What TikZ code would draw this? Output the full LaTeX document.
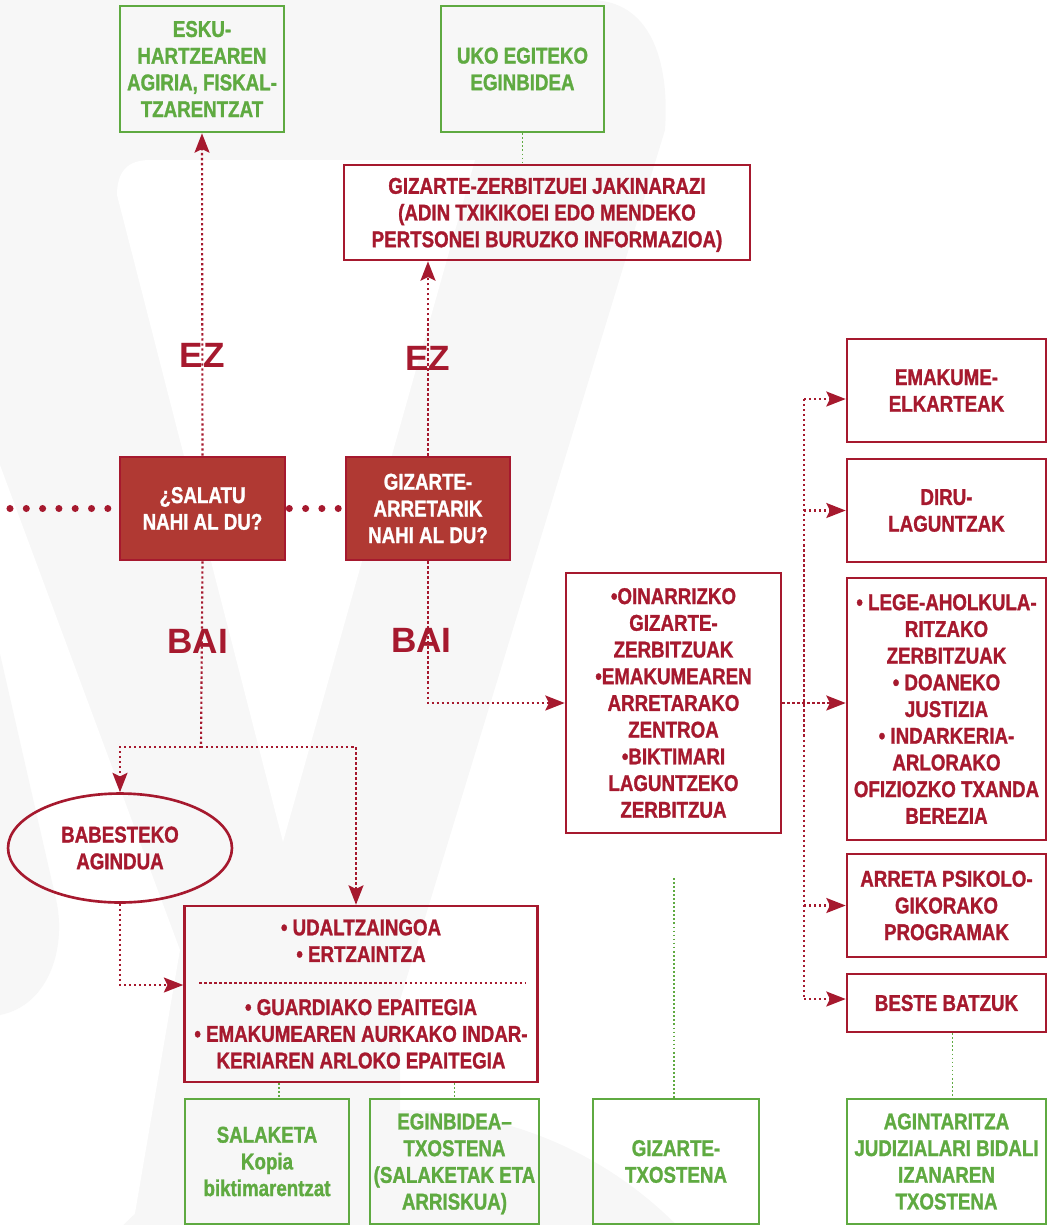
\documentclass[tikz,border=0pt]{standalone}
\usepackage{fontspec}
\setmainfont{Liberation Sans}
\newfontfamily\narrowfont[FakeStretch=0.82, BoldFeatures={FakeBold=1.2}]{Liberation Sans}
\usetikzlibrary{shapes.geometric, arrows.meta}

\definecolor{wine}{RGB}{166,25,46}
\definecolor{brick}{RGB}{176,57,51}
\definecolor{leaf}{RGB}{95,170,65}
\definecolor{logogray}{RGB}{247,247,247}

\tikzstyle{redbox} = [rectangle, draw=wine, line width=1.5pt, text=wine, inner sep=0pt, align=center, font=\narrowfont\bfseries\fontsize{13}{15.2}\selectfont]
\tikzstyle{greenbox} = [rectangle, draw=leaf, line width=1.5pt, text=leaf, inner sep=0pt, align=center, font=\narrowfont\bfseries\fontsize{13}{15.2}\selectfont]
\tikzstyle{question} = [rectangle, draw=wine, fill=brick, line width=1.5pt, text=white, inner sep=0pt, align=center, font=\narrowfont\bfseries\fontsize{13}{15.2}\selectfont]
\tikzstyle{answer} = [text=wine, font=\bfseries\fontsize{20}{20}\selectfont]
\tikzstyle{link} = [wine, line width=1.2pt, dash pattern=on 1.3pt off 1.55pt]
\tikzstyle{arrow} = [link, -{Stealth[length=11pt, width=8.5pt, inset=2pt]}]
\tikzstyle{greenlink} = [leaf, line width=1.1pt, dash pattern=on 1pt off 1.3pt]
\tikzstyle{bigdots} = [wine, line width=4pt, line cap=round, dash pattern=on 0pt off 9.28pt]

\begin{document}
\begin{tikzpicture}[x=0.02cm, y=-0.02cm]
\useasboundingbox (0,0) rectangle (1047,1225);

%background logo
\begin{scope}
\clip (0,0) rectangle (1047,1225);
\fill [logogray] (0,0) -- (590,0) .. controls (650,0) and (670,60) .. (665,130) -- (400,1000) -- (400,1225) -- (0,1225) -- cycle;
\fill [white] (117,195) .. controls (117,172) and (127,160) .. (150,160) -- (475,160) -- (283,842) -- cycle;
\fill [white] (0,465) -- (180,950) -- (133,1225) -- (0,1225) -- cycle;
\fill [logogray] (0,654) -- (55,895) .. controls (68,945) and (50,1005) .. (0,1015) -- cycle;
\fill [logogray] (400,1500) circle (390);
\end{scope}

%top row
\node (esku) [greenbox, minimum width=3.28cm, minimum height=2.52cm] at (202,69) {ESKU-\\HARTZEAREN\\AGIRIA, FISKAL-\\TZARENTZAT};
\node (uko) [greenbox, minimum width=3.26cm, minimum height=2.52cm] at (522.5,69) {UKO EGITEKO\\EGINBIDEA};
\node (gz) [redbox, minimum width=8.12cm, minimum height=1.9cm, text depth=0pt] at (547,212.5) {GIZARTE-ZERBITZUEI JAKINARAZI\\(ADIN TXIKIKOEI EDO MENDEKO\\PERTSONEI BURUZKO INFORMAZIOA)};

%questions
\node (salatu) [question, minimum width=3.3cm, minimum height=2.06cm] at (202.5,508.5) {¿SALATU\\NAHI AL DU?};
\node (arret) [question, minimum width=3.28cm, minimum height=2.06cm] at (428,508.5) {GIZARTE-\\ARRETARIK\\NAHI AL DU?};
\coordinate (leftend) at (10,508.5);

%left branch
\node (babes) [redbox, ellipse, minimum width=4.48cm, minimum height=2.18cm] at (120,848) {BABESTEKO\\AGINDUA};
\node (udal) [redbox, minimum width=7.06cm, minimum height=3.52cm] at (361,994) {• UDALTZAINGOA\\• ERTZAINTZA\\[15pt]• GUARDIAKO EPAITEGIA\\• EMAKUMEAREN AURKAKO INDAR-\\KERIAREN ARLOKO EPAITEGIA};
\coordinate (split) at (201,747);

%middle
\node (oin) [redbox, minimum width=4.3cm, minimum height=5.2cm] at (673.5,703) {•OINARRIZKO\\GIZARTE-\\ZERBITZUAK\\•EMAKUMEAREN\\ARRETARAKO\\ZENTROA\\•BIKTIMARI\\LAGUNTZEKO\\ZERBITZUA};

%right column
\node (emak) [redbox, minimum width=3.98cm, minimum height=2.06cm] at (946.5,390.5) {EMAKUME-\\ELKARTEAK};
\node (diru) [redbox, minimum width=3.98cm, minimum height=2.06cm] at (946.5,510.5) {DIRU-\\LAGUNTZAK};
\node (lege) [redbox, minimum width=3.98cm, minimum height=5.24cm] at (946.5,709) {• LEGE-AHOLKULA-\\RITZAKO\\ZERBITZUAK\\• DOANEKO\\JUSTIZIA\\• INDARKERIA-\\ARLORAKO\\OFIZIOZKO TXANDA\\BEREZIA};
\node (arreta) [redbox, minimum width=3.98cm, minimum height=2.06cm] at (946.5,905.5) {ARRETA PSIKOLO-\\GIKORAKO\\PROGRAMAK};
\node (beste) [redbox, minimum width=3.98cm, minimum height=1.16cm] at (946.5,1003) {BESTE BATZUK};
\coordinate (t1) at (804,399);
\coordinate (t5) at (804,999);

%bottom row
\node (salak) [greenbox, minimum width=3.28cm, minimum height=2.5cm] at (267,1161.5) {SALAKETA\\Kopia\\biktimarentzat};
\node (egin) [greenbox, minimum width=3.38cm, minimum height=2.5cm, text depth=0pt] at (454.5,1161.5) {EGINBIDEA–\\TXOSTENA\\(SALAKETAK ETA\\ARRISKUA)};
\node (gtx) [greenbox, minimum width=3.32cm, minimum height=2.5cm] at (676,1161.5) {GIZARTE-\\TXOSTENA};
\node (agin) [greenbox, minimum width=3.98cm, minimum height=2.5cm] at (946.5,1161.5) {AGINTARITZA\\JUDIZIALARI BIDALI\\IZANAREN\\TXOSTENA};
\coordinate (gfree) at (674,878);

%arrows
\draw [bigdots] (leftend) -- (salatu.west);
\draw [bigdots] ([xshift=0.06cm]salatu.east) -- (arret.west);
\draw [arrow] (salatu.north) -- node [answer, pos=0.31] {EZ} (esku.south);
\draw [arrow] (arret.north) -- node [answer] {EZ} (arret.north |- gz.south);
\draw [greenlink] (uko.south) -- (uko.south |- gz.north);
\draw [link] (salatu.south) -- node [answer, pos=0.43, xshift=-0.08cm] {BAI} (split);
\draw [arrow] (split) -| (babes.north);
\draw [arrow] (split) -| ([xshift=-0.1cm]udal.north);
\draw [arrow] (babes.south) |- ([yshift=0.18cm]udal.west);
\draw [link] ([xshift=0.32cm, yshift=0.22cm]udal.west) -- ([xshift=-0.26cm, yshift=0.22cm]udal.east);
\draw [arrow] (arret.south) |- node [answer, pos=0.28, xshift=-0.13cm] {BAI} (oin.west);
\draw [link] (t1) -- (t5);
\draw [arrow] (t1) -- (emak.west |- t1);
\draw [arrow] (diru.west -| t1) -- (diru.west);
\draw [arrow] (oin.east) -- (oin.east -| lege.west);
\draw [arrow] (arreta.west -| t1) -- (arreta.west);
\draw [arrow] (t5) -- (t5 -| beste.west);
\draw [greenlink] ([xshift=0.24cm]salak.north |- udal.south) -- ([xshift=0.24cm]salak.north);
\draw [greenlink] (egin.north |- udal.south) -- (egin.north);
\draw [greenlink] (gfree) -- (gfree |- gtx.north);
\draw [greenlink] ([xshift=0.12cm]beste.south) -- ([xshift=0.12cm]beste.south |- agin.north);

\end{tikzpicture}
\end{document}
